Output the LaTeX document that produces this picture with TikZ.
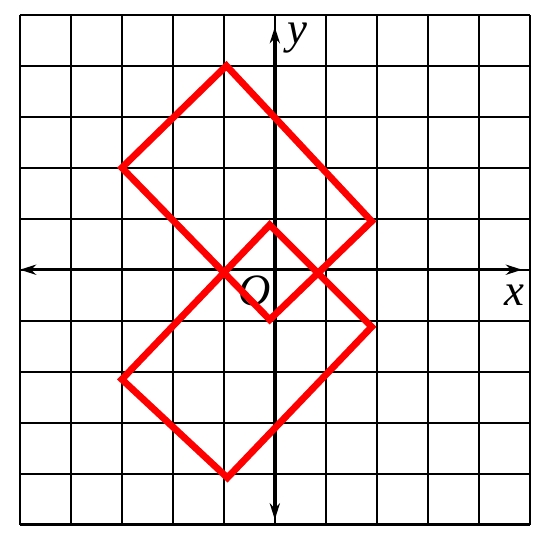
\documentclass[tikz,border=0pt]{standalone}
\usepackage{fontspec}
\setmainfont{Liberation Serif}
\usetikzlibrary{arrows.meta}
\begin{document}
\begin{tikzpicture}[
  gridline/.style={line width=1.3pt, black},
  axis/.style={line width=1.9pt, black, {Stealth[length=0.32cm,width=0.2cm]}-{Stealth[length=0.32cm,width=0.2cm]}},
  redline/.style={line width=3.8pt, red, line join=miter},
  lbl/.style={font=\fontsize{25pt}{25pt}\selectfont\itshape, inner sep=0pt}
]
\useasboundingbox (-5.39,-5.29) rectangle (5.24,5.29);
\draw[gridline] (-5,-5) grid (5,5);
\draw[axis] (-5.0,0) -- (4.85,0);
\draw[axis] (0,-4.9) -- (0,4.76);
\node[lbl] (ylab) at (0.45,4.55) {y};
\node[lbl] (xlab) at (4.7,-0.5) {x};
\node[lbl] (olab) at (-0.39,-0.42) {O};
\draw[redline] (-0.95,4) -- (-3,2) -- (-0.1,-0.98) -- (1.9,0.95) -- cycle;
\draw[redline] (-0.1,0.88) -- (1.9,-1.12) -- (-0.93,-4.08) -- (-3,-2.15) -- cycle;
\end{tikzpicture}
\end{document}
